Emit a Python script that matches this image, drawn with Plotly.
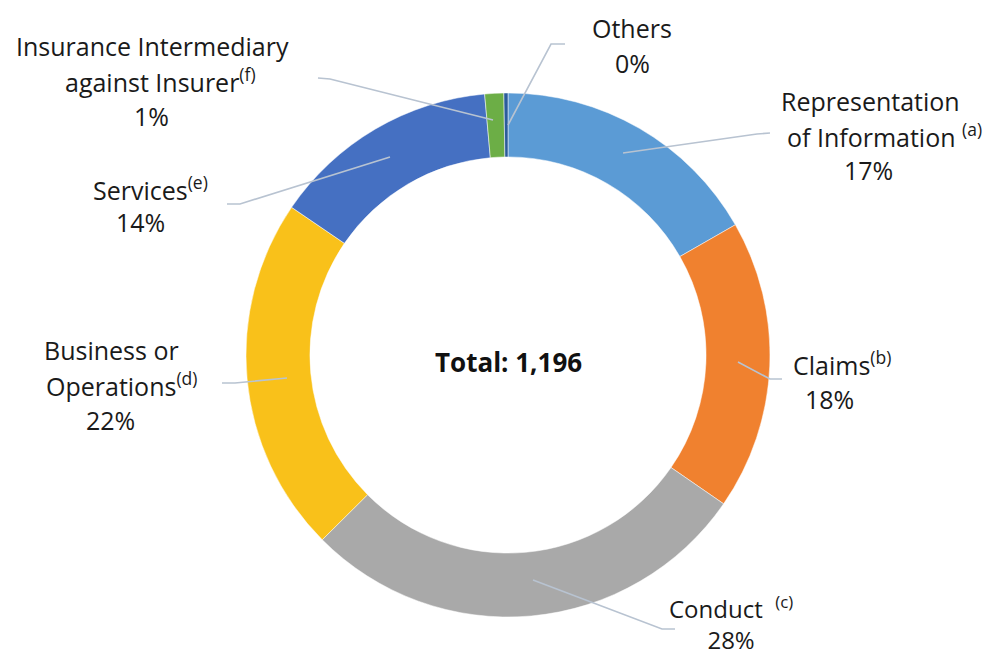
import plotly.graph_objects as go

categories = ["Representation of Information", "Claims", "Conduct",
              "Business or Operations", "Services",
              "Insurance Intermediary against Insurer", "Others"]
values = [200, 214, 334, 263, 168, 14, 3]
notes = ["(a)", "(b)", "(c)", "(d)", "(e)", "(f)", ""]
colors = ["#5B9BD5", "#F0812F", "#A9A9A9", "#F9C11A", "#4570C2", "#6CAE46", "#2B5C9B"]

W, H = 990, 659
CX, CY, R = 508, 355, 262
ML, MT = CX - R, CY - R
MR, MB = W - (CX + R), H - (CY + R)

def px(x, y):
    return (x - ML) / (2 * R), ((CY + R) - y) / (2 * R)

total = sum(values)
pcts = [round(v * 100 / total) for v in values]

fig = go.Figure(go.Pie(
    labels=categories, values=values, hole=0.756, sort=False,
    direction="clockwise", rotation=0,
    marker=dict(colors=colors, line=dict(color="white", width=0.5)),
    textinfo="none", hoverinfo="label+value+percent", showlegend=False,
))

FAM = "Open Sans, Lato, sans-serif"
font = dict(family=FAM, size=25, color="#1a1a1a")

# each label: list of (text, x_center, y_center) per line
label_lines = [
    [("Representation", 870, 101), (f"of Information <sup>{notes[0]}</sup>", 884, 135), (f"{pcts[0]}%", 868, 170)],
    [(f"Claims<sup>{notes[1]}</sup>", 842, 363), (f"{pcts[1]}%", 829, 399)],
    [("Business or", 111, 350), (f"Operations<sup>{notes[3]}</sup>", 121, 385), (f"{pcts[3]}%", 110, 420)],
    [(f"Services<sup>{notes[4]}</sup>", 150, 188), (f"{pcts[4]}%", 140, 222)],
    [("Insurance Intermediary", 152, 46), (f"against Insurer<sup>{notes[5]}</sup>", 160, 80), (f"{pcts[5]}%", 151, 116)],
    [("Others", 632, 28), (f"{pcts[6]}%", 632, 63)],
]
leaders = [
    [(623, 153), (757, 134), (770, 133)],
    [(738, 362), (770, 379), (782, 379)],
    [(533, 580), (662, 629), (675, 629)],
    [(287, 378), (235, 383), (222, 383)],
    [(390, 157), (240, 204), (227, 204)],
    [(493, 120), (330, 79), (318, 78)],
    [(508, 125), (551, 44), (565, 44)],
]

annotations = []
for lines in label_lines:
    for txt, x, y in lines:
        xp, yp = px(x, y)
        annotations.append(dict(text=txt, x=xp, y=yp, xref="paper", yref="paper",
                                showarrow=False, xanchor="center", yanchor="middle",
                                align="center", font=font))
# Conduct label as one block anchored at the bottom edge
cx_, cy_ = px(731, 658)
annotations.append(dict(text=f"Conduct  <sup>{notes[2]}</sup><br>{pcts[2]}%", x=cx_, y=cy_,
                        xref="paper", yref="paper", showarrow=False,
                        xanchor="center", yanchor="bottom", align="center",
                        font=dict(family=FAM, size=24, color="#1a1a1a")))
tx, ty = px(CX, 362)
annotations.append(dict(text=f"<b>Total: {total:,}</b>", x=tx, y=ty,
                        xref="paper", yref="paper", showarrow=False,
                        font=dict(family=FAM, size=26, color="#111")))

shapes = []
for pts in leaders:
    path = ""
    for i, (x, y) in enumerate(pts):
        xp, yp = px(x, y)
        path += ("M" if i == 0 else " L") + f" {xp:.4f} {yp:.4f}"
    shapes.append(dict(type="path", path=path, xref="paper", yref="paper",
                       line=dict(color="#B8C3D1", width=1.6)))

fig.update_layout(
    width=W, height=H,
    margin=dict(l=ML, r=MR, t=MT, b=MB, autoexpand=False),
    paper_bgcolor="white", plot_bgcolor="white",
    annotations=annotations, shapes=shapes,
)

fig.write_html("out.html", config={"displayModeBar": False},
               post_script="document.body.style.margin='0';")
